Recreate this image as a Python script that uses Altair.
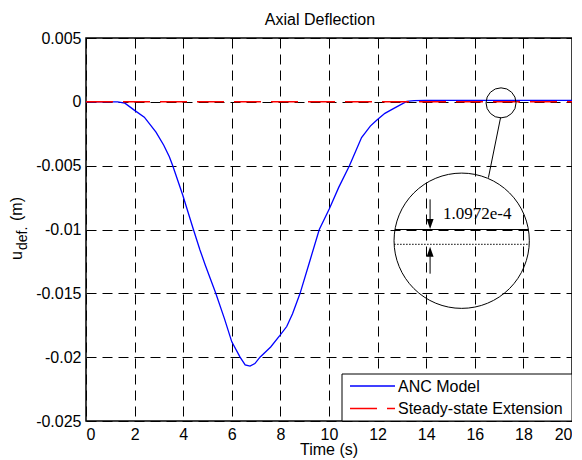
import altair as alt
import pandas as pd

# ---- data ----
time_s = [0, 1.0, 1.3, 1.6, 2.0, 2.4, 2.88, 3.2, 3.43, 3.57, 3.98, 4.42, 4.69, 4.91,
          5.34, 5.7, 6.0, 6.34, 6.55, 6.75, 6.95, 7.16, 7.6, 7.98, 8.26, 8.5, 8.81,
          9.19, 9.6, 10.01, 10.4, 10.84, 11.34, 11.7, 11.96, 12.3, 12.65, 13.2, 13.5,
          14.0, 20.0]
anc_model = [0, 0, 0, -0.0001, -0.00067, -0.0012, -0.00237, -0.0034, -0.0043, -0.0050,
             -0.0073, -0.0100, -0.0116, -0.0128, -0.0150, -0.0170, -0.0188, -0.0200,
             -0.0206, -0.0207, -0.0205, -0.0200, -0.0192, -0.0183, -0.0176, -0.0166,
             -0.0150, -0.0126, -0.0100, -0.0084, -0.0067, -0.0050, -0.0028, -0.0019,
             -0.00145, -0.0009, -0.00053, 0.00004, 0.0001, 0.00011, 0.00011]
steady_time = [0, 20]
steady_value = [0, 0]

x_ticks = [0, 2, 4, 6, 8, 10, 12, 14, 16, 18, 20]
y_ticks = [0.005, 0, -0.005, -0.01, -0.015, -0.02, -0.025]

series_names = ["ANC Model", "Steady-state Extension"]
series_colors = ["#0000ff", "#ff0000"]

# inset annotation anchors (data coordinates)
zoom_small = [17.08, -0.00008]
zoom_big = [15.46, -0.01088]
connector = [17.06, -0.00124, 16.56, -0.00594]
chord_solid = [12.71, 18.21, -0.0100]
chord_dotted = [12.68, 18.24, -0.01116]
arrow_down = [14.16, -0.00764, -0.0092, -0.00956]
arrow_up = [14.16, -0.01346, -0.0121, -0.01175]
offset_label = "1.0972e-4"
offset_label_pos = [14.69, -0.00915]

FONT = "Liberation Sans"

xs = alt.Scale(domain=[0, 20], nice=False, zero=False)
ys = alt.Scale(domain=[-0.025, 0.005], nice=False, zero=False)

x_axis = alt.Axis(values=x_ticks, title=None, grid=True, ticks=False, labelPadding=5,
                  labelExpr="'' + datum.value")
y_axis = alt.Axis(values=y_ticks, title=None, grid=True, ticks=False, labelPadding=5,
                  labelExpr="'' + datum.value")

anc_df = pd.DataFrame({"t": time_s, "v": anc_model})
ss_df = pd.DataFrame({"t": steady_time, "v": steady_value})

anc = alt.Chart(anc_df).mark_line(color=series_colors[0], strokeWidth=1.3).encode(
    x=alt.X("t:Q", scale=xs, axis=x_axis),
    y=alt.Y("v:Q", scale=ys, axis=y_axis),
)
ss = alt.Chart(ss_df).mark_line(color=series_colors[1], strokeWidth=1.5,
                                 strokeDash=[27, 10]).encode(
    x=alt.X("t:Q", scale=xs), y=alt.Y("v:Q", scale=ys))

one = pd.DataFrame({"a": [0]})

circ_df = pd.DataFrame({"t": [zoom_small[0], zoom_big[0]], "v": [zoom_small[1], zoom_big[1]],
                        "s": ["small", "big"]})
circles = alt.Chart(circ_df).mark_point(shape="circle", filled=False, color="black",
                                        strokeWidth=1, opacity=1).encode(
    x=alt.X("t:Q", scale=xs), y=alt.Y("v:Q", scale=ys),
    size=alt.Size("s:N", scale=alt.Scale(domain=["small", "big"], range=[900, 18300]),
                  legend=None))

seg_df = pd.DataFrame({
    "t1": [connector[0], chord_solid[0], arrow_down[0], arrow_up[0]],
    "v1": [connector[1], chord_solid[2], arrow_down[1], arrow_up[1]],
    "t2": [connector[2], chord_solid[1], arrow_down[0], arrow_up[0]],
    "v2": [connector[3], chord_solid[2], arrow_down[2], arrow_up[2]],
})
segs = alt.Chart(seg_df).mark_rule(color="black", strokeWidth=1).encode(
    x=alt.X("t1:Q", scale=xs), y=alt.Y("v1:Q", scale=ys), x2="t2:Q", y2="v2:Q")

dot_df = pd.DataFrame({"t1": [chord_dotted[0]], "t2": [chord_dotted[1]], "v": [chord_dotted[2]]})
dotted = alt.Chart(dot_df).mark_rule(color="black", strokeWidth=1, strokeDash=[1.5, 1.5]).encode(
    x=alt.X("t1:Q", scale=xs), x2="t2:Q", y=alt.Y("v:Q", scale=ys))

head_down = alt.Chart(pd.DataFrame({"t": [arrow_down[0]], "v": [arrow_down[3]]})).mark_point(
    shape="M-0.7,-1L0.7,-1L0,1Z", filled=True, color="black", size=100, opacity=1).encode(
    x=alt.X("t:Q", scale=xs), y=alt.Y("v:Q", scale=ys))
head_up = alt.Chart(pd.DataFrame({"t": [arrow_up[0]], "v": [arrow_up[3]]})).mark_point(
    shape="M-0.7,1L0.7,1L0,-1Z", filled=True, color="black", size=100, opacity=1).encode(
    x=alt.X("t:Q", scale=xs), y=alt.Y("v:Q", scale=ys))

lab = alt.Chart(pd.DataFrame({"t": [offset_label_pos[0]], "v": [offset_label_pos[1]],
                              "txt": [offset_label]})).mark_text(
    font="Liberation Serif", fontSize=17, align="left", baseline="alphabetic", color="black").encode(
    x=alt.X("t:Q", scale=xs), y=alt.Y("v:Q", scale=ys), text="txt:N")

# y axis title with subscript
ytitle_u = alt.Chart(one).mark_text(text="u", font=FONT, fontSize=16, angle=270, align="left",
                                    baseline="alphabetic", color="black").encode(
    x=alt.value(-64.5), y=alt.value(222))
ytitle_sub = alt.Chart(one).mark_text(text="def.", font=FONT, fontSize=14, angle=270, align="left",
                                      baseline="alphabetic", color="black").encode(
    x=alt.value(-59.5), y=alt.value(212))
ytitle_m = alt.Chart(one).mark_text(text="(m)", font=FONT, fontSize=16, angle=270, align="left",
                                    baseline="alphabetic", color="black").encode(
    x=alt.value(-64), y=alt.value(183))

# x axis title and chart title as text marks
xtitle = alt.Chart(one).mark_text(text="Time (s)", font=FONT, fontSize=16, align="center",
                                  baseline="alphabetic", color="black").encode(
    x=alt.value(243), y=alt.value(417))
ctitle = alt.Chart(one).mark_text(text="Axial Deflection", font=FONT, fontSize=16, align="center",
                                  baseline="alphabetic", color="black").encode(
    x=alt.value(234), y=alt.value(-13))

# legend box
leg_box = alt.Chart(one).mark_rect(fill="white", stroke="black", strokeWidth=1).encode(
    x=alt.value(256), x2=alt.value(486), y=alt.value(336), y2=alt.value(383))
leg_l1 = alt.Chart(one).mark_rule(color=series_colors[0], strokeWidth=1.3).encode(
    x=alt.value(264), x2=alt.value(309), y=alt.value(348))
leg_l2 = alt.Chart(one).mark_rule(color=series_colors[1], strokeWidth=1.5, strokeDash=[27, 10]).encode(
    x=alt.value(264), x2=alt.value(309), y=alt.value(370.5))
leg_t1 = alt.Chart(one).mark_text(text=series_names[0], font=FONT, fontSize=16, align="left",
                                  baseline="alphabetic", color="black").encode(
    x=alt.value(312), y=alt.value(353.7))
leg_t2 = alt.Chart(one).mark_text(text=series_names[1], font=FONT, fontSize=16, align="left",
                                  baseline="alphabetic", color="black").encode(
    x=alt.value(312), y=alt.value(376))

chart = alt.layer(
    anc, ss, circles, segs, dotted, head_down, head_up, lab,
    ytitle_u, ytitle_sub, ytitle_m, xtitle, ctitle,
    leg_box, leg_l1, leg_l2, leg_t1, leg_t2,
).properties(
    width=486, height=383,
    autosize=alt.AutoSizeParams(type="none"),
    padding={"left": 78, "top": 30, "right": 0, "bottom": 44},
).configure_view(
    stroke="black", strokeWidth=1.5
).configure_axis(
    domain=False, gridColor="black", gridOpacity=1, gridWidth=1, gridDash=[10, 6],
    labelFont=FONT, labelFontSize=16, labelColor="black",
    titleFont=FONT, titleFontSize=16, titleFontWeight="normal", titleColor="black",
)

chart.save("out.html", embed_options={"renderer": "svg", "actions": False})
